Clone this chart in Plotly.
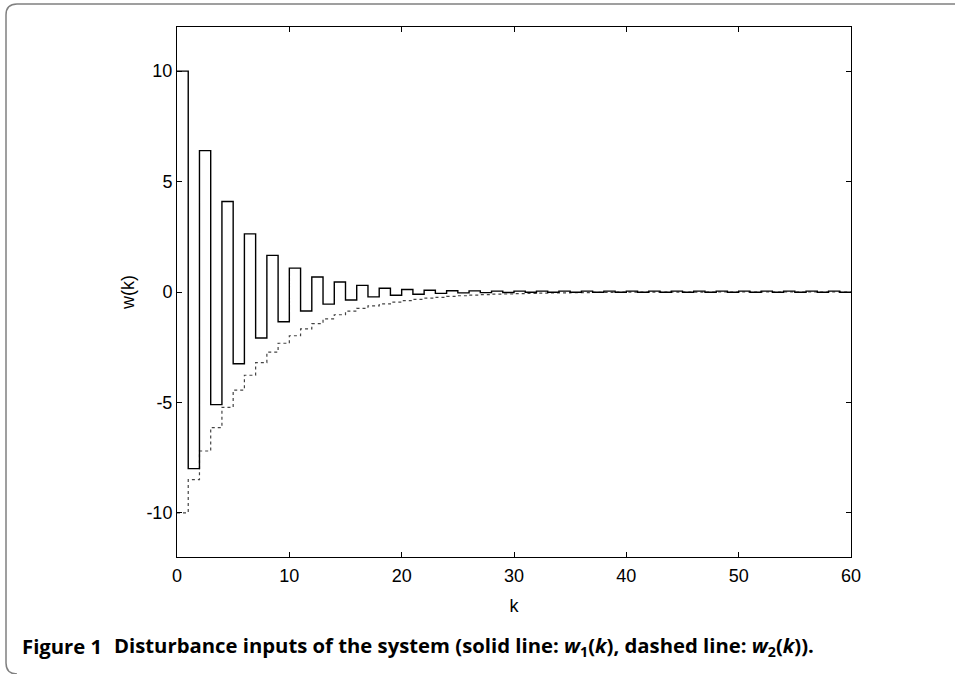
import plotly.graph_objects as go

k = list(range(0, 61))

w1 = [10, -8, 6.4, -5.1, 4.1, -3.25, 2.63, -2.08, 1.66, -1.35,
      1.08, -0.86, 0.68, -0.55, 0.45, -0.36, 0.30, -0.22, 0.17, -0.15,
      0.11, -0.10, 0.08, -0.06, 0.06, -0.04, 0.05, -0.03, 0.04, -0.02,
      0.04, -0.01, 0.04, -0.01, 0.04, -0.01, 0.04, -0.01, 0.04, -0.01,
      0.04, -0.01, 0.04, -0.01, 0.04, -0.01, 0.04, -0.01, 0.04, -0.01,
      0.04, -0.01, 0.04, -0.01, 0.04, -0.01, 0.04, -0.01, 0.04, -0.01,
      0.0]

w2 = [-10, -8.5, -7.2, -6.14, -5.22, -4.44, -3.77, -3.2, -2.72, -2.32,
      -1.98, -1.67, -1.43, -1.22, -1.03, -0.87, -0.74, -0.63, -0.54, -0.46,
      -0.39, -0.33, -0.28, -0.24, -0.20, -0.17, -0.14, -0.12, -0.10, -0.09,
      -0.07, -0.06, -0.05, -0.04, -0.04, -0.03, -0.03, -0.02, -0.02, -0.01,
      -0.01, -0.01, -0.01, -0.01, -0.01, -0.01, -0.01, 0, 0, 0,
      0, 0, 0, 0, 0, 0, 0, 0, 0, 0,
      0]

x_ticks = [0, 10, 20, 30, 40, 50, 60]
y_ticks = [-10, -5, 0, 5, 10]
y_tick_labels = ["-10", "-5", "0", "5", "10"]

W, H = 955, 674
L, R, T, B = 177, 851, 27, 557

fig = go.Figure()
fig.add_trace(go.Scatter(x=k, y=w2, mode="lines", line_shape="hv",
                         line=dict(color="#444444", width=1.2, dash="dot"),
                         showlegend=False, hoverinfo="skip"))
fig.add_trace(go.Scatter(x=k, y=w1, mode="lines", line_shape="hv",
                         line=dict(color="#000000", width=1.4),
                         showlegend=False, hoverinfo="skip"))

axis_common = dict(showgrid=False, zeroline=False, showline=True, linecolor="black",
                   linewidth=1, mirror="ticks", ticks="inside", ticklen=5,
                   tickcolor="black",
                   tickfont=dict(family="Liberation Sans, Arial", size=18, color="black"),
                   title_font=dict(family="Liberation Sans, Arial", size=18, color="black"))

fig.update_xaxes(range=[0, 60], tickvals=x_ticks, title_text="k",
                 title_standoff=14, ticklabelstandoff=2, **axis_common)
fig.update_yaxes(range=[-12, 12], tickvals=y_ticks, ticktext=y_tick_labels,
                 title_text="w(k)", title_standoff=7, **axis_common)


def px(xp):
    return (xp - L) / (R - L)


def py(yp):
    return (B - yp) / (B - T)


border = (f"M {px(960)},{py(4)} L {px(17)},{py(4)} "
          f"Q {px(6)},{py(4)} {px(6)},{py(15)} "
          f"L {px(6)},{py(663)} Q {px(6)},{py(674)} {px(17)},{py(674)}")

fig.update_layout(
    width=W, height=H,
    margin=dict(l=L, r=W - R, t=T, b=H - B),
    paper_bgcolor="white", plot_bgcolor="white",
    shapes=[dict(type="path", xref="paper", yref="paper", path=border,
                 line=dict(color="#808080", width=1.5), layer="above")],
    annotations=[
        dict(xref="paper", yref="paper", x=px(20), y=py(646), xanchor="left", yanchor="middle",
             showarrow=False, text="<b>Figure 1</b>",
             font=dict(family="Open Sans", size=20.3, color="black")),
        dict(xref="paper", yref="paper", x=px(112), y=py(646), xanchor="left", yanchor="middle",
             showarrow=False,
             text="<b>Disturbance inputs of the system (solid line: <i>w</i><sub>1</sub>(<i>k</i>), "
                  "dashed line: <i>w</i><sub>2</sub>(<i>k</i>)).</b>",
             font=dict(family="Open Sans", size=20.3, color="black")),
    ],
)

fig.write_html("out.html", config={"displayModeBar": False},
               post_script="document.body.style.margin='0px';")
